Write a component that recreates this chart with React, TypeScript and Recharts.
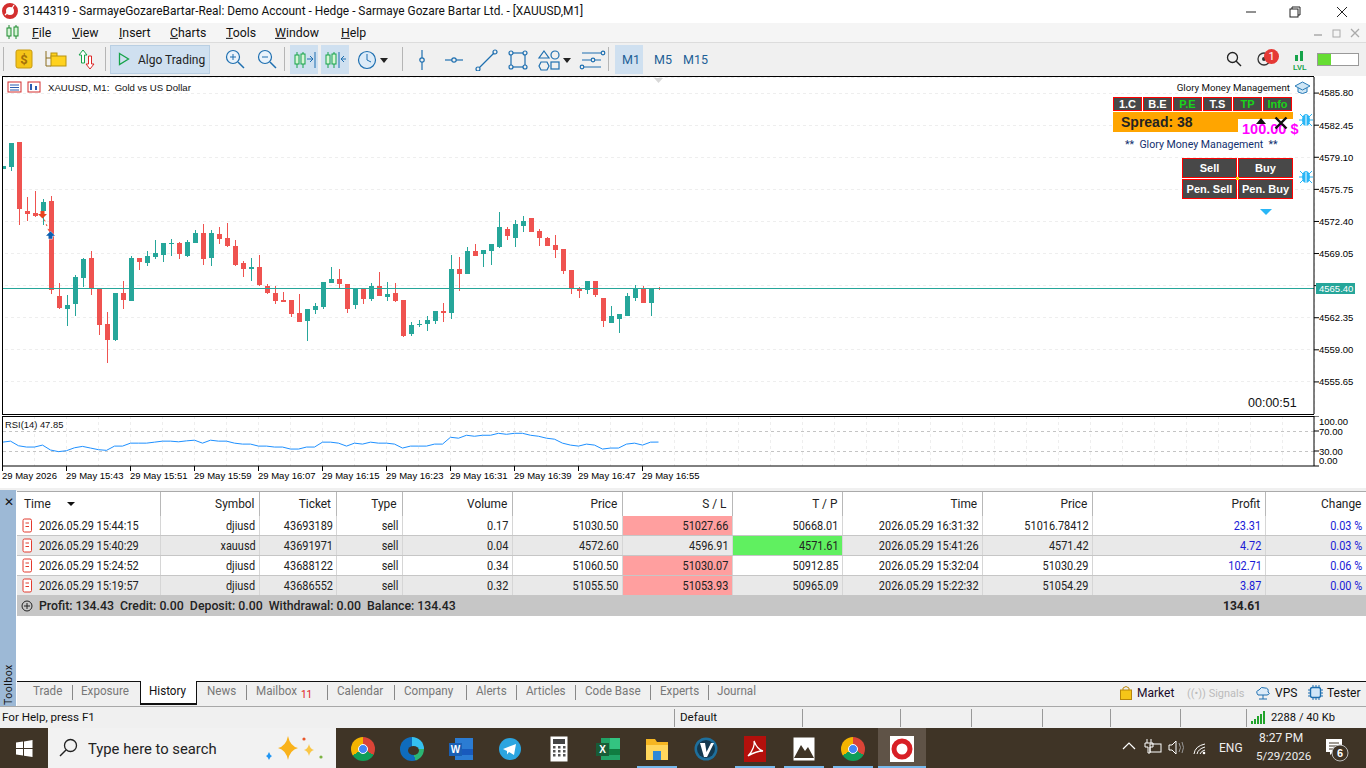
import React from "react";
import {
  Bar,
  CartesianGrid,
  ComposedChart,
  Line,
  ReferenceLine,
  XAxis,
  YAxis,
} from "recharts";

// candles, oldest first (one per minute from 15:35)
const opens = [
  4577.88, 4578.12, 4580.7, 4573.5, 4573.29, 4573.5, 4574.54, 4564.62, 4563.27, 4563.79, 4566.5, 4568.59,
  4565.46, 4561.7, 4560.03, 4564.94, 4564.1, 4568.59, 4568.07, 4568.69, 4568.9, 4570.05, 4570.15, 4568.8,
  4570.15, 4571.2, 4568.59, 4571.09, 4570.68, 4569.84, 4568.07, 4567.44, 4567.65, 4565.67, 4564.94, 4564.2,
  4564.2, 4562.85, 4562.01, 4563.16, 4563.47, 4565.98, 4566.4, 4565.87, 4563.68, 4565.38, 4564.31, 4565.66,
  4564.51, 4564.93, 4564.2, 4560.65, 4561.59, 4561.7, 4562.01, 4563.05, 4562.84, 4567.44, 4566.92, 4569.32,
  4569.0, 4569.32, 4569.73, 4571.61, 4570.67, 4571.93, 4572.76, 4571.4, 4570.67, 4569.94, 4569.52, 4567.33,
  4565.45, 4565.25, 4566.18, 4564.41, 4561.8, 4562.22, 4562.53, 4564.41, 4565.38, 4563.89, 4565.42,
];
const highs = [
  4578.19, 4580.59, 4580.7, 4574.96, 4575.58, 4574.75, 4575.06, 4565.98, 4564.73, 4566.81, 4568.59, 4569.32,
  4565.46, 4562.95, 4564.94, 4566.19, 4568.8, 4568.59, 4569.32, 4570.47, 4570.15, 4570.57, 4570.26, 4570.47,
  4571.51, 4572.14, 4571.51, 4571.82, 4572.24, 4570.47, 4568.28, 4568.59, 4568.9, 4565.87, 4565.67, 4565.04,
  4564.2, 4564.83, 4563.27, 4563.89, 4566.08, 4567.65, 4567.44, 4565.87, 4565.38, 4565.38, 4565.98, 4567.12,
  4566.08, 4565.98, 4564.2, 4561.91, 4562.11, 4562.53, 4563.05, 4563.89, 4568.9, 4568.69, 4569.73, 4570.05,
  4569.42, 4570.05, 4573.39, 4571.82, 4572.55, 4572.97, 4572.76, 4571.61, 4570.78, 4570.99, 4569.52, 4567.33,
  4565.56, 4566.18, 4566.18, 4564.41, 4563.57, 4562.74, 4564.93, 4565.77, 4565.66, 4565.38, 4565.56,
];
const lows = [
  4577.88, 4577.7, 4572.03, 4572.45, 4572.87, 4572.03, 4564.83, 4563.27, 4561.49, 4562.53, 4565.56, 4564.73,
  4560.55, 4557.63, 4559.92, 4563.27, 4564.1, 4567.34, 4567.75, 4568.48, 4568.17, 4568.8, 4568.48, 4568.69,
  4570.15, 4567.86, 4567.75, 4570.05, 4569.74, 4567.75, 4566.61, 4566.19, 4565.67, 4564.83, 4563.79, 4563.99,
  4562.43, 4561.91, 4559.92, 4562.74, 4563.27, 4565.98, 4565.35, 4562.84, 4563.26, 4563.78, 4564.1, 4564.62,
  4564.1, 4563.99, 4560.34, 4560.44, 4561.38, 4560.97, 4561.7, 4561.91, 4562.22, 4565.14, 4566.92, 4568.8,
  4567.65, 4567.86, 4569.63, 4570.46, 4569.73, 4571.3, 4571.3, 4569.84, 4569.84, 4568.59, 4566.92, 4564.83,
  4564.41, 4564.83, 4564.51, 4561.38, 4561.8, 4560.76, 4562.53, 4564.1, 4563.89, 4562.53, 4565.25,
];
const closes = [
  4578.19, 4580.59, 4573.7, 4573.18, 4572.97, 4574.43, 4565.25, 4563.37, 4563.68, 4566.61, 4568.48, 4565.46,
  4561.59, 4560.03, 4564.94, 4564.2, 4568.59, 4568.17, 4568.8, 4569.11, 4570.15, 4570.15, 4569.01, 4570.26,
  4571.2, 4568.48, 4571.2, 4570.57, 4569.84, 4567.86, 4567.44, 4567.65, 4565.77, 4564.94, 4564.1, 4563.99,
  4562.74, 4561.91, 4563.27, 4563.58, 4566.08, 4566.4, 4565.87, 4563.26, 4565.38, 4564.31, 4565.66, 4564.62,
  4564.83, 4564.1, 4560.44, 4561.59, 4561.7, 4562.11, 4563.05, 4562.84, 4567.44, 4566.92, 4569.32, 4568.8,
  4569.42, 4570.05, 4571.82, 4570.88, 4572.13, 4572.45, 4571.3, 4570.67, 4569.84, 4569.42, 4567.23, 4565.35,
  4565.14, 4566.18, 4564.72, 4562.01, 4562.53, 4562.74, 4564.62, 4565.38, 4563.89, 4565.38, 4565.35,
];
const rsiValues = [
  47.7, 49.7, 40.5, 37.9, 37.9, 41.8, 32, 28.7, 30.6, 36.5, 39.2, 35.9, 32.6, 31.3, 39.8, 39.8, 45.7, 45.7, 45.7,
  47.7, 49.7, 49.7, 48.4, 50.3, 51.6, 45.7, 51.6, 49.7, 49.7, 45.7, 43.8, 43.8, 39.8, 39.8, 37.9, 37.9, 33.9, 33.9,
  37.9, 37.9, 47.7, 47.7, 45.7, 39.8, 45.7, 43.8, 47.7, 45.7, 45.7, 43.8, 35.9, 39.8, 39.8, 39.8, 43.8, 43.8, 57.5,
  55.6, 61.5, 59.5, 61.5, 61.5, 65.4, 63.4, 65.4, 65.4, 61.5, 59.5, 55.6, 53.6, 45.7, 41.8, 39.8, 43.8, 41.8, 33.9,
  35.9, 35.9, 43.8, 45.7, 41.8, 47.7, 47.85,
];
const priceTicks = [4585.8, 4582.45, 4579.1, 4575.75, 4572.4, 4569.05, 4565.7, 4562.35, 4559.0, 4555.65];
const rsiTicks = [0, 30, 70, 100];
const timeLabels = [
  "29 May 2026", "29 May 15:43", "29 May 15:51", "29 May 15:59", "29 May 16:07", "29 May 16:15",
  "29 May 16:23", "29 May 16:31", "29 May 16:39", "29 May 16:47", "29 May 16:55",
];
const lastPrice = 4565.4;
// the one trade on the chart: candle index and price of entry and exit
const tradeSlots = [5, 6];
const tradePrices = [4573.08, 4571.0];

const tableHeaders = ["Time", "Symbol", "Ticket", "Type", "Volume", "Price", "S / L", "T / P", "Time", "Price", "Profit", "Change"];
const openTimes = ["2026.05.29 15:44:15", "2026.05.29 15:40:29", "2026.05.29 15:24:52", "2026.05.29 15:19:57"];
const symbols = ["djiusd", "xauusd", "djiusd", "djiusd"];
const tickets = ["43693189", "43691971", "43688122", "43686552"];
const volumes = ["0.17", "0.04", "0.34", "0.32"];
const openPrices = ["51030.50", "4572.60", "51060.50", "51055.50"];
const stopLosses = ["51027.66", "4596.91", "51030.07", "51053.93"];
const takeProfits = ["50668.01", "4571.61", "50912.85", "50965.09"];
const closeTimes = ["2026.05.29 16:31:32", "2026.05.29 15:41:26", "2026.05.29 15:32:04", "2026.05.29 15:22:32"];
const closePrices = ["51016.78412", "4571.42", "51030.29", "51054.29"];
const profits = ["23.31", "4.72", "102.71", "3.87"];
const changes = ["0.03 %", "0.03 %", "0.06 %", "0.00 %"];
const columnEdges = [17, 160, 259, 336, 402, 512, 622, 732, 842, 982, 1092, 1265, 1366];

const menuItems: [string, number][] = [["File", 32], ["View", 72], ["Insert", 119], ["Charts", 170], ["Tools", 226], ["Window", 275], ["Help", 341]];
const tabItems: [string, number][] = [["Trade", 33], ["Exposure", 81], ["History", 149], ["News", 207], ["Mailbox", 256], ["Calendar", 337], ["Company", 404], ["Alerts", 476], ["Articles", 526], ["Code Base", 585], ["Experts", 660], ["Journal", 717]];
const tabSeparators = [72, 246, 327, 394, 466, 516, 575, 650, 708];
const statusSeparators = [674, 802, 900, 971, 1042, 1110, 1180, 1246];

const UP = "#26a69a";
const DOWN = "#ef5350";
const FONT = "Roboto, 'Liberation Sans', sans-serif";
const AXIS_FONT = "'Liberation Sans', sans-serif";

const slots = Array.from({ length: 164 }, (_, i) => i);
const priceRows = slots.map((slot) => {
  const t = tradeSlots.indexOf(slot);
  return {
    slot,
    open: opens[slot],
    high: highs[slot],
    low: lows[slot],
    close: closes[slot],
    range: slot < opens.length ? [lows[slot], highs[slot]] : null,
    trade: t >= 0 ? tradePrices[t] : null,
  };
});
const rsiRows = slots.map((slot) => ({ slot, rsi: slot < rsiValues.length ? rsiValues[slot] : null }));

function CandleShape(props: any) {
  const { x, y, width, height, payload } = props;
  if (!payload || payload.open == null) return null;
  const { open, high, low, close } = payload;
  const unit = height / (high - low);
  const bodyTop = y + (high - Math.max(open, close)) * unit;
  const bodyHeight = Math.max(1, Math.abs(open - close) * unit);
  const color = close >= open ? UP : DOWN;
  return (
    <g shapeRendering="crispEdges" fill={color}>
      <rect x={x + width / 2 - 0.5} y={y} width={1} height={height} />
      <rect x={x} y={bodyTop} width={width} height={bodyHeight} />
    </g>
  );
}

function TradeDot(props: any) {
  const { cx, cy, payload } = props;
  if (cy == null || payload.trade == null) return <g key={payload.slot} />;
  const isEntry = payload.slot === tradeSlots[0];
  const d = isEntry
    ? `M${cx - 2},${cy - 4}h4v3h2.5l-4.5,4.5l-4.5,-4.5h2.5z`
    : `M${cx - 2},${cy + 4}h4v-3h2.5l-4.5,-4.5l-4.5,4.5h2.5z`;
  return <path key={payload.slot} d={d} fill={isEntry ? "#e8431f" : "#0c5fb0"} stroke={isEntry ? "none" : "#fff"} strokeWidth={1} paintOrder="stroke" />;
}

function RsiTick(props: any) {
  const { x, y, payload } = props;
  const shift = payload.value === 100 ? 5 : payload.value === 0 ? -6 : 0;
  return (
    <text x={x} y={y + shift + 3.5} fill="#000" fontSize={9.5} fontFamily={AXIS_FONT}>
      {payload.value.toFixed(2)}
    </text>
  );
}

function TimeTick(props: any) {
  const { x, y, payload } = props;
  const label = timeLabels[payload.value / 8];
  if (payload.value % 8 !== 0 || !label) return <g />;
  return (
    <g>
      <rect x={x - 0.5} y={y - 6} width={1} height={5} fill="#000" shapeRendering="crispEdges" />
      <text x={x - 0.5} y={y + 7} fill="#000" fontSize={9.5} fontFamily={AXIS_FONT}>
        {label}
      </text>
    </g>
  );
}

function T({ x, y, s = 12, c = "#1a1a1a", w = 400, right, children, f, sx = 1 }: any) {
  const pos: React.CSSProperties = right ? { right: 1366 - x } : { left: x };
  return (
    <span style={{ position: "absolute", top: y, transform: `translateY(-50%) scaleX(${sx})`, transformOrigin: right ? "right center" : "left center", fontSize: s, color: c, fontWeight: w, whiteSpace: "nowrap", fontFamily: f || FONT, lineHeight: 1, ...pos }}>
      {children}
    </span>
  );
}

function Box({ x, y, w, h, bg, style }: any) {
  return <div style={{ position: "absolute", left: x, top: y, width: w, height: h, background: bg, ...style }} />;
}

function Svg({ x, y, w, h, children }: any) {
  return (
    <svg style={{ position: "absolute", left: x, top: y }} width={w} height={h} viewBox={`0 0 ${w} ${h}`}>
      {children}
    </svg>
  );
}

function WidgetButton({ x, y, w, h, label, color = "#fff", s = 11 }: any) {
  return (
    <div style={{ position: "absolute", left: x, top: y, width: w, height: h, boxSizing: "border-box", background: "#484848", border: "1px solid #f00", color, fontSize: s, fontWeight: 700, textAlign: "center", lineHeight: `${h - 2}px`, fontFamily: "'Liberation Sans', sans-serif", whiteSpace: "nowrap" }}>
      {label}
    </div>
  );
}

function Spider({ x, y }: any) {
  return (
    <Svg x={x} y={y} w={14} h={16}>
      <g stroke="#29b6f6" strokeWidth={1} fill="none">
        <path d="M4,5L1,2M10,5L13,2M3,8H0M11,8H14M4,11L1,14M10,11L13,14" />
      </g>
      <ellipse cx={7} cy={8} rx={4} ry={6} fill="#29b6f6" />
      <path d="M7,3V14" stroke="#fff" />
    </Svg>
  );
}

function ChromeIcon({ x, y, size = 22 }: any) {
  return (
    <div style={{ position: "absolute", left: x, top: y, width: size, height: size, borderRadius: "50%", background: "conic-gradient(#db4437 0 33%, #0f9d58 33% 66%, #f4b400 66% 100%)" }}>
      <div style={{ position: "absolute", left: size * 0.28, top: size * 0.28, width: size * 0.44, height: size * 0.44, borderRadius: "50%", background: "#4285f4", border: "1px solid #fff", boxSizing: "border-box" }} />
    </div>
  );
}

function Toolbar() {
  const blue = "#1e6fb0";
  return (
    <>
      <Box x={0} y={43} w={1366} h={33} bg="#f0f0f0" />
      <Box x={0} y={42} w={1366} h={1} bg="#dcdcdc" />
      {[3, 105, 284, 402, 608].map((x) => (
        <Box key={x} x={x} y={47} w={1} h={24} bg="#b5b5b5" />
      ))}
      <Svg x={15} y={49} w={18} h={20}>
        <rect x={1} y={1} width={16} height={18} rx={2} fill="#f5c518" stroke="#c79a10" />
        <text x={9} y={15} fontSize={13} textAnchor="middle" fill="#a4700a" fontFamily={FONT} fontWeight={700}>$</text>
      </Svg>
      <Svg x={45} y={50} w={22} h={18}>
        <path d="M1,1V16H6M1,8H6" stroke="#8a6d1c" fill="none" />
        <rect x={6} y={3} width={6} height={4} fill="#ffd21f" stroke="#b8920f" />
        <rect x={6} y={6} width={15} height={10} fill="#ffd21f" stroke="#b8920f" />
      </Svg>
      <Svg x={78} y={49} w={18} h={22}>
        <path d="M5,1L9,6H6.5V14H3.5V6H1Z" fill="#fff" stroke="#16a34a" />
        <path d="M12,20L16,15H13.5V7H10.5V15H8Z" fill="#fff" stroke="#dc2626" />
      </Svg>
      <Box x={110} y={45} w={100} h={29} bg="#cfe0f0" style={{ boxSizing: "border-box", border: "1px solid #b9cfe3" }} />
      <Svg x={118} y={52} w={12} h={14}>
        <path d="M1.5,1.5L10.5,7L1.5,12.5Z" fill="none" stroke="#16a34a" strokeWidth={1.3} />
      </Svg>
      <T x={138} y={60} s={12} c="#222">Algo Trading</T>
      {[225, 257].map((x, i) => (
        <Svg key={x} x={x} y={49} w={20} h={21}>
          <circle cx={8} cy={8} r={6.5} fill="#eaf3fb" stroke={blue} strokeWidth={1.2} />
          <path d={i === 0 ? "M5,8H11M8,5V11" : "M5,8H11"} stroke={blue} />
          <path d="M13,13L19,19" stroke={blue} strokeWidth={1.5} />
        </Svg>
      ))}
      <Box x={290} y={45} w={28} h={29} bg="#cfe0f0" />
      <Box x={321} y={45} w={28} h={29} bg="#cfe0f0" />
      {[294, 325].map((x, i) => (
        <Svg key={x} x={x} y={50} w={22} h={20}>
          <path d="M3,2V18M9,2V18" stroke="#16a34a" />
          <rect x={1} y={5} width={4} height={9} fill="#d6f5d6" stroke="#16a34a" />
          <rect x={7} y={4} width={4} height={10} fill="#d6f5d6" stroke="#16a34a" />
          {i === 0 ? <path d="M13,9H19M16,6L19,9L16,12M21,2V18" stroke={blue} fill="none" /> : <path d="M14,2V18M21,9H16M19,6L16,9L19,12" stroke={blue} fill="none" />}
        </Svg>
      ))}
      <Svg x={357} y={49} w={34} h={22}>
        <circle cx={10} cy={11} r={8.5} fill="#dcebf8" stroke={blue} strokeWidth={1.2} />
        <path d="M10,5V11L14,13" stroke={blue} fill="none" />
        <path d="M23,9H31L27,14Z" fill="#222" />
      </Svg>
      <Svg x={414} y={49} w={196} h={22}>
        <g stroke={blue} fill="none" strokeWidth={1.2}>
          <path d="M8,1V21" />
          <circle cx={8} cy={11} r={2.2} fill="#f0f0f0" />
          <path d="M31,11H49" />
          <circle cx={40} cy={11} r={2.2} fill="#f0f0f0" />
          <path d="M65,19L80,4" />
          <circle cx={64} cy={20} r={2} fill="#f0f0f0" />
          <circle cx={81} cy={3} r={2} fill="#f0f0f0" />
          <rect x={97} y={4} width={14} height={14} />
          <circle cx={97} cy={4} r={2} fill="#f0f0f0" />
          <circle cx={111} cy={4} r={2} fill="#f0f0f0" />
          <circle cx={97} cy={18} r={2} fill="#f0f0f0" />
          <circle cx={111} cy={18} r={2} fill="#f0f0f0" />
          <path d="M130,2L135,9H125Z" />
          <circle cx={141} cy={6} r={4} />
          <path d="M127,13H133L135,17L133,21H127L125,17Z" />
          <rect x={137} y={13} width={8} height={7} />
          <path d="M168,4H187M168,11H177M168,18H187M181,11H187" />
          <circle cx={189} cy={4} r={1.8} fill="#f0f0f0" />
          <circle cx={179} cy={11} r={1.8} fill="#f0f0f0" />
          <circle cx={168} cy={18} r={1.8} fill="#f0f0f0" />
        </g>
        <path d="M149,9H157L153,14Z" fill="#222" />
      </Svg>
      <Box x={615} y={45} w={28} h={29} bg="#cfe0f0" />
      <T x={622} y={60} s={12.5} c="#1e5f96">M1</T>
      <T x={654} y={60} s={12.5} c="#1e5f96">M5</T>
      <T x={683} y={60} s={12.5} c="#1e5f96">M15</T>
      <Svg x={1226} y={51} w={16} h={17}>
        <circle cx={6.5} cy={6.5} r={5} fill="none" stroke="#222" strokeWidth={1.3} />
        <path d="M10,10L15,15" stroke="#222" strokeWidth={1.4} />
      </Svg>
      <Svg x={1256} y={50} w={16} h={18}>
        <circle cx={8} cy={9} r={6} fill="none" stroke="#333" strokeWidth={1.3} />
        <circle cx={8} cy={9} r={2} fill="#333" />
      </Svg>
      <div style={{ position: "absolute", left: 1264, top: 49, width: 15, height: 15, borderRadius: "50%", background: "#e53935", color: "#fff", fontSize: 11, textAlign: "center", lineHeight: "15px", fontFamily: FONT }}>1</div>
      <Svg x={1293} y={49} w={16} h={22}>
        <rect x={2} y={6} width={3} height={6} fill="#16a34a" />
        <rect x={7} y={2} width={3} height={10} fill="#16a34a" />
        <text x={0} y={21} fontSize={7.5} fill="#16a34a" fontFamily={AXIS_FONT} fontWeight={700}>LVL</text>
      </Svg>
      <Box x={1317} y={53} w={42} h={13} bg="#fff" style={{ boxSizing: "border-box", border: "1px solid #999" }} />
      <Box x={1318} y={54} w={13} h={11} bg="#66dd33" />
    </>
  );
}

function TitleAndMenu() {
  return (
    <>
      <Box x={0} y={0} w={1366} h={23} bg="#fff" />
      <Svg x={2} y={3} w={16} h={16}>
        <circle cx={8} cy={8} r={6} fill="none" stroke="#d32f2f" strokeWidth={4} />
        <path d="M3,12L7,8M12,2L9,7" stroke="#fff" strokeWidth={1.2} />
      </Svg>
      <T x={23} y={12} s={11.9} c="#111">3144319 - SarmayeGozareBartar-Real: Demo Account - Hedge - Sarmaye Gozare Bartar Ltd. - [XAUUSD,M1]</T>
      <Svg x={1240} y={2} w={120} h={20}>
        <path d="M6,10H16" stroke="#222" />
        <rect x={50} y={7} width={8} height={8} fill="none" stroke="#222" />
        <path d="M52,7V5H60V13H58" fill="none" stroke="#222" />
        <path d="M97,5L107,15M107,5L97,15" stroke="#222" />
      </Svg>
      <Box x={0} y={23} w={1366} h={19} bg="#f5f5f5" />
      <Svg x={6} y={25} w={14} h={15}>
        <path d="M3,0V14M10,0V14" stroke="#1c8a2e" />
        <rect x={1} y={3} width={4} height={8} fill="#d6f5d6" stroke="#1c8a2e" />
        <rect x={8} y={2} width={4} height={9} fill="#d6f5d6" stroke="#1c8a2e" />
      </Svg>
      {menuItems.map(([name, x]) => (
        <T key={name} x={x} y={33} s={12.3} c="#111">
          <span style={{ textDecoration: "underline" }}>{name[0]}</span>
          {name.slice(1)}
        </T>
      ))}
      <Svg x={1310} y={26} w={54} h={14}>
        <path d="M4,9H12" stroke="#aaa" strokeWidth={1.5} />
        <rect x={23} y={4} width={7} height={7} fill="none" stroke="#aaa" />
        <path d="M41,3L49,11M49,3L41,11" stroke="#aaa" strokeWidth={1.3} />
      </Svg>
    </>
  );
}

function ChartWidgets() {
  const topRow: [string, number, string][] = [["1.C", 1113, "#fff"], ["B.E", 1143, "#fff"], ["P.E", 1173, "#19d419"], ["T.S", 1203, "#fff"], ["TP", 1233, "#19d419"], ["Info", 1263, "#19d419"]];
  return (
    <>
      <T x={1290} y={88} s={9.7} right c="#111">Glory Money Management</T>
      <Svg x={1294} y={81} w={18} h={14}>
        <path d="M4,7V11Q8.5,14 13,11V7" fill="#cfe6f5" stroke="#2a7cb8" />
        <path d="M1,5L8.5,1L16,5L8.5,9Z" fill="#cfe6f5" stroke="#2a7cb8" />
      </Svg>
      {topRow.map(([label, x, color]) => (
        <WidgetButton key={label} x={x} y={97} w={29} h={14} label={label} color={color} />
      ))}
      <Box x={1113} y={112} w={180} h={20} bg="#ffa500" />
      <T x={1121} y={122} s={14} w={700} c="#222" f={AXIS_FONT}>Spread: 38</T>
      <Box x={1238} y={119} w={55} h={13} bg="#fff" />
      <T x={1242} y={128.5} s={14.5} w={700} c="#ff00ff" f={AXIS_FONT}>100.00 $</T>
      <Svg x={1255} y={117} w={12} h={8}>
        <path d="M1,7L6,1L11,7Z" fill="#111" />
      </Svg>
      <Svg x={1274} y={116} w={14} h={14}>
        <path d="M1.5,1.5L12.5,12.5M12.5,1.5L1.5,12.5" stroke="#111" strokeWidth={2.4} />
      </Svg>
      <T x={1125} y={145} s={10.6} c="#12306e">**&nbsp; Glory Money Management &nbsp;**</T>
      <WidgetButton x={1182} y={158} w={55} h={20} label="Sell" />
      <WidgetButton x={1238} y={158} w={55} h={20} label="Buy" />
      <WidgetButton x={1182} y={179} w={55} h={20} label="Pen. Sell" />
      <WidgetButton x={1238} y={179} w={55} h={20} label="Pen. Buy" />
      <Box x={1236} y={177} w={3} h={3} bg="#ffd400" />
      <Svg x={1259} y={208} w={14} h={8}>
        <path d="M1,1H13L7,7Z" fill="#29b6f6" />
      </Svg>
      <Spider x={1299} y={112} />
      <Spider x={1299} y={169} />
      <T x={1248} y={403} s={12.5} c="#111" f={AXIS_FONT}>00:00:51</T>
      <Svg x={7} y={81} w={36} h={13}>
        <rect x={1} y={1} width={13} height={10} fill="#fff" stroke="#d32f2f" />
        <path d="M3,4H12M3,6.5H12M3,9H12" stroke="#2a5db0" />
        <rect x={21} y={1} width={12} height={10} fill="#fff" stroke="#d32f2f" />
        <path d="M24,3V9M29,5V9" stroke="#2a5db0" strokeWidth={2} />
      </Svg>
      <T x={48} y={87.5} s={9.6} c="#111" f={AXIS_FONT}>XAUUSD, M1:&nbsp; Gold vs US Dollar</T>
      <Svg x={654} y={78} w={9} h={5}>
        <path d="M0,0H9L4.5,5Z" fill="#d8d8d8" />
      </Svg>
      {/* last price tag sits over the 4565.70 axis label, as in the terminal */}
      <Box x={1316} y={283} w={39} h={11} bg={UP} />
      <T x={1319} y={288.5} s={9.5} c="#fff" f={AXIS_FONT}>4565.40</T>
    </>
  );
}

function HistoryTable() {
  const rowTops = [516, 536, 556, 576];
  const rows = openTimes.map((time, i) => [time, symbols[i], tickets[i], "sell", volumes[i], openPrices[i], stopLosses[i], takeProfits[i], closeTimes[i], closePrices[i], profits[i], changes[i]]);
  return (
    <>
      <Box x={0} y={488} w={1366} h={3} bg="#f0f0f0" />
      <Box x={0} y={490} w={16} h={216} bg="#9db9d6" />
      <T x={4} y={502} s={12} c="#111" w={500}>✕</T>
      <div style={{ position: "absolute", left: 2, top: 661, height: 44, width: 14, writingMode: "vertical-rl", transform: "rotate(180deg)", fontSize: 10.5, letterSpacing: 0.5, color: "#111", textAlign: "left", fontFamily: FONT }}>Toolbox</div>
      <Box x={17} y={491} w={1349} h={1} bg="#aaa" />
      {tableHeaders.map((head, c) =>
        c === 0 ? (
          <T key={c} x={24} y={504} s={12.5} c="#222" sx={0.95}>{head}</T>
        ) : (
          <T key={c} x={columnEdges[c + 1] - 5} y={504} s={12.5} c="#222" right sx={0.95}>{head}</T>
        ),
      )}
      <Svg x={67} y={502} w={8} h={5}>
        <path d="M0,0H8L4,4Z" fill="#111" />
      </Svg>
      {columnEdges.slice(1, -1).map((x) => (
        <Box key={x} x={x} y={492} w={1} h={24} bg="#b8b8b8" />
      ))}
      {rows.map((row, r) => (
        <React.Fragment key={r}>
          <Box x={17} y={rowTops[r]} w={1349} h={19} bg={r % 2 ? "#e9e9e9" : "#fff"} />
          {r !== 1 && <Box x={623} y={rowTops[r]} w={109} h={19} bg="#ff9f9f" />}
          {r === 1 && <Box x={733} y={rowTops[r]} w={109} h={19} bg="#60f060" />}
          <Box x={17} y={rowTops[r] + 19} w={1349} h={1} bg="#c6c6c6" />
          {columnEdges.slice(1, -1).map((x) => (
            <Box key={x} x={x} y={rowTops[r]} w={1} h={19} bg="#d6d6d6" />
          ))}
          <Svg x={22} y={rowTops[r] + 2} w={11} h={15}>
            <rect x={1} y={1} width={8.5} height={13} rx={1.5} fill="#fff" stroke="#e23a2e" />
            <path d="M3.5,5H7M3.5,8.5H7" stroke="#e23a2e" />
          </Svg>
          <T x={39} y={rowTops[r] + 10} c="#222" sx={0.91}>{row[0]}</T>
          {row.slice(1).map((cell, c) => (
            <T key={c} x={columnEdges[c + 2] - 3.5} y={rowTops[r] + 10} c={c >= 9 ? "#1a1ad6" : "#222"} right sx={0.91}>
              {cell}
            </T>
          ))}
        </React.Fragment>
      ))}
      <Box x={17} y={596} w={1349} h={20} bg="#c6c6c6" />
      <Svg x={21} y={600} w={12} h={12}>
        <circle cx={6} cy={6} r={5} fill="none" stroke="#222" />
        <path d="M3,6H9M6,3V9" stroke="#222" />
      </Svg>
      <T x={39} y={606} s={12.3} w={500} c="#222">Profit: 134.43&nbsp; Credit: 0.00&nbsp; Deposit: 0.00&nbsp; Withdrawal: 0.00&nbsp; Balance: 134.43</T>
      <T x={1261} y={606} w={700} c="#222" right>134.61</T>
    </>
  );
}

function BottomBars() {
  return (
    <>
      <Box x={17} y={681} w={1349} h={1} bg="#111" />
      <Box x={17} y={682} w={1349} h={24} bg="#f0f0f0" />
      <Box x={140} y={681} w={57} h={24} bg="#fff" style={{ boxSizing: "border-box", borderLeft: "1px solid #111", borderRight: "1px solid #111", borderBottom: "2px solid #111" }} />
      {tabItems.map(([name, x]) => (
        <T key={name} x={x} y={691} s={12} c={name === "History" ? "#111" : "#777"} sx={0.97}>{name}</T>
      ))}
      <T x={301} y={695} s={10} c="#e02020">11</T>
      {tabSeparators.map((x) => (
        <Box key={x} x={x} y={685} w={1} h={15} bg="#888" />
      ))}
      <Svg x={1119} y={685} w={14} h={15}>
        <path d="M4,5V3Q7,0 10,3V5" fill="none" stroke="#b8860b" />
        <rect x={1.5} y={5} width={11} height={9.5} fill="#f5c518" stroke="#b8860b" />
      </Svg>
      <T x={1137} y={693} s={12} c="#1a0a2a">Market</T>
      <T x={1187} y={693} s={11} c="#bbb">((•)) Signals</T>
      <Svg x={1255} y={686} w={16} h={14}>
        <path d="M3,9Q0,5 4,4Q6,0 10,2Q14,2 13,6Q16,8 12,9Z" fill="#dcebf8" stroke="#1e6fb0" />
        <path d="M8,9V13M4,13H12" stroke="#1e6fb0" />
      </Svg>
      <T x={1275} y={693} s={12} c="#111">VPS</T>
      <Svg x={1308} y={685} w={15} h={15}>
        <rect x={2.5} y={2.5} width={10} height={10} rx={2} fill="#cfe6f8" stroke="#1e6fb0" strokeWidth={1.4} />
        <path d="M5,0V2M8,0V2M11,0V2M5,13V15M8,13V15M11,13V15M0,5H2M0,8H2M0,11H2M13,5H15M13,8H15M13,11H15" stroke="#1e6fb0" />
      </Svg>
      <T x={1327} y={693} s={12} c="#111">Tester</T>
      <Box x={0} y={706} w={1366} h={1} bg="#a8a8a8" />
      <Box x={0} y={707} w={1366} h={21} bg="#f0f0f0" />
      <T x={2} y={718} s={11.6} c="#111">For Help, press F1</T>
      <T x={680} y={718} s={11.6} c="#111">Default</T>
      {statusSeparators.map((x) => (
        <Box key={x} x={x} y={709} w={1} h={18} bg="#999" />
      ))}
      {[0, 1, 2, 3, 4].map((i) => (
        <Box key={i} x={1251 + i * 3} y={722 - i * 2.5 - 1} w={2} h={3 + i * 2.5} bg="#21a32a" />
      ))}
      <T x={1271} y={718} s={11.2} c="#111">2288 / 40 Kb</T>
    </>
  );
}

function Taskbar() {
  const bar = "#3f3426";
  const marks: [number, number][] = [[637, 40], [735, 40], [784, 40], [833, 40], [878, 48]];
  return (
    <>
      <Box x={0} y={728} w={1366} h={40} bg={bar} />
      <Svg x={16} y={740} w={17} h={17}>
        <path d="M0,2.5L7,1.5V8H0ZM8,1.4L16.5,0V8H8ZM0,9H7V15.5L0,14.5ZM8,9H16.5V17L8,15.7Z" fill="#fff" />
      </Svg>
      <Box x={48} y={728} w={288} h={40} bg="#f2f2f2" />
      <Svg x={59} y={738} w={20} h={20}>
        <circle cx={11.5} cy={7.5} r={6} fill="none" stroke="#222" strokeWidth={1.3} />
        <path d="M7,12L1,18" stroke="#222" strokeWidth={1.4} />
      </Svg>
      <T x={88} y={749} s={14.8} c="#222">Type here to search</T>
      <Svg x={264} y={735} w={62} h={28}>
        <path d="M24,1Q26,11 34,13Q26,15 24,25Q22,15 14,13Q22,11 24,1Z" fill="#f9b21b" />
        <path d="M45,9Q46,14 50,15Q46,16 45,21Q44,16 40,15Q44,14 45,9Z" fill="#f9c646" />
        <path d="M5,17Q6,20 8,21Q6,22 5,25Q4,22 2,21Q4,20 5,17Z" fill="#2196f3" />
        <circle cx={40} cy={4} r={1.6} fill="#e8562a" />
        <circle cx={57} cy={22} r={1.6} fill="#7cb342" />
      </Svg>
      <ChromeIcon x={351} y={737} size={24} />
      <div style={{ position: "absolute", left: 400, top: 737, width: 24, height: 24, borderRadius: "50%", background: "conic-gradient(#35c1f1 0 25%, #2bb673 25% 45%, #0f6cbd 45% 100%)" }}>
        <div style={{ position: "absolute", left: 8, top: 9, width: 11, height: 9, borderRadius: "50%", background: bar }} />
      </div>
      <Svg x={449} y={737} w={24} h={24}>
        <rect x={6} y={1} width={18} height={22} fill="#2b7cd3" />
        <rect x={6} y={12} width={18} height={6} fill="#185abd" />
        <rect x={0} y={6} width={13} height={13} fill="#1a5fb4" />
        <text x={6.5} y={16} fontSize={10} fontWeight={700} fill="#fff" textAnchor="middle" fontFamily={AXIS_FONT}>W</text>
      </Svg>
      <Svg x={498} y={737} w={24} h={24}>
        <circle cx={12} cy={12} r={11} fill="#2ca5e0" />
        <path d="M5,12L18,7L16,18L11,15L9,17.5V14Z" fill="#fff" />
      </Svg>
      <Svg x={550} y={736} w={18} h={26}>
        <rect x={0.5} y={0.5} width={17} height={25} fill="#fff" />
        <rect x={3} y={3} width={12} height={5} fill="#444" />
        {[10, 14, 18].map((yy) => [3, 8, 13].map((xx) => <rect key={`${xx}-${yy}`} x={xx} y={yy} width={2.5} height={2.5} fill="#555" />))}
      </Svg>
      <Svg x={596} y={737} w={24} h={24}>
        <rect x={5} y={1} width={19} height={22} fill="#21a366" />
        <rect x={14} y={1} width={10} height={11} fill="#33c481" />
        <rect x={5} y={12} width={19} height={6} fill="#107c41" />
        <rect x={0} y={6} width={13} height={13} fill="#185c37" />
        <text x={6.5} y={16} fontSize={10} fontWeight={700} fill="#fff" textAnchor="middle" fontFamily={AXIS_FONT}>X</text>
      </Svg>
      <Svg x={645} y={737} w={24} h={24}>
        <path d="M1,2H10L12,5H23V9H1Z" fill="#f5b622" />
        <rect x={1} y={8} width={22} height={15} fill="#ffd65c" />
        <rect x={8} y={14} width={8} height={9} fill="#2f88d8" />
      </Svg>
      <Svg x={694} y={737} w={24} h={24}>
        <circle cx={12} cy={12} r={11.5} fill="#1e6f9c" />
        <circle cx={12} cy={12} r={9} fill="#14384e" />
        <path d="M6,6H11L12.5,15L17,6H20L13,20H10Z" fill="#fff" />
      </Svg>
      <Svg x={744} y={736} w={22} h={26}>
        <rect x={0} y={0} width={22} height={26} fill="#b3100c" />
        <path d="M4,20C9,15 11,8 10,5C12,10 14,14 19,15C14,15 9,17 4,20Z" fill="none" stroke="#fff" strokeWidth={1.3} />
      </Svg>
      <Svg x={793} y={737} w={22} h={24}>
        <rect x={0} y={0} width={22} height={24} fill="#fff" stroke={bar} />
        <path d="M1,21L8,8L12,14L15,10L21,21Z" fill={bar} />
      </Svg>
      <ChromeIcon x={841} y={737} size={24} />
      <Box x={878} y={728} w={48} h={40} bg="#5f5347" />
      <Svg x={890} y={736} w={24} h={26}>
        <rect x={0} y={0} width={24} height={26} fill="#fff" />
        <circle cx={12} cy={13} r={8} fill="none" stroke="#d81f26" strokeWidth={5} />
      </Svg>
      {marks.map(([x, w]) => (
        <Box key={x} x={x} y={766} w={w} h={2} bg="#76b9ed" />
      ))}
      <Svg x={1122} y={741} w={14} h={10}>
        <path d="M1,8L7,2L13,8" fill="none" stroke="#fff" strokeWidth={1.2} />
      </Svg>
      <Svg x={1143} y={738} w={72} h={20}>
        <g fill="none" stroke="#fff">
          <path d="M4,1V5M8,1V5M2,5H10V9H7V15H5V9H2Z" />
          <rect x={7} y={6} width={11} height={8} />
          <path d="M26,7H29L33,3V16L29,12H26Z" />
          <path d="M36,5Q39,9.5 36,14M39,4Q42,9.5 39,15" stroke="#999" />
          <path d="M51,16Q52,8 62,6M54,16Q55,11 62,9M57,16Q58,13 62,12" />
        </g>
        <circle cx={61} cy={15} r={1.3} fill="#fff" />
      </Svg>
      <T x={1219} y={748} s={12} c="#eee">ENG</T>
      <T x={1259} y={738} s={12} c="#eee">8:27 PM</T>
      <T x={1256} y={757} s={11.6} c="#eee">5/29/2026</T>
      <Svg x={1325} y={738} w={32} h={26}>
        <path d="M1,1H17V14H8L5,17V14H1Z" fill="#fff" />
        <path d="M4,5H14M4,8H14M4,11H14" stroke="#3f3426" />
        <circle cx={15} cy={15} r={8} fill="#3f3426" stroke="#bbb" />
        <text x={15} y={19} textAnchor="middle" fontSize={11} fontWeight={700} fill="#fff" fontFamily={AXIS_FONT}>6</text>
      </Svg>
    </>
  );
}

export default function App() {
  return (
    <div style={{ position: "absolute", left: 0, top: 0, width: 1366, height: 768, overflow: "hidden", background: "#fff", fontFamily: FONT }}>
      <TitleAndMenu />
      <Toolbar />

      <div style={{ position: "absolute", left: 0, top: 77 }}>
        <ComposedChart width={1366} height={337} data={priceRows} margin={{ top: 0, right: 0, bottom: 0, left: -1.5 }} barCategoryGap={0}>
          <CartesianGrid stroke="#eeeeee" strokeDasharray="3 3" shapeRendering="crispEdges" />
          <XAxis dataKey="slot" type="category" scale="band" interval={3} tick={false} tickLine={false} axisLine={false} height={0} padding={{ left: 0, right: 3.5 }} />
          <YAxis
            orientation="right"
            width={52}
            domain={[4552.3, 4587.48]}
            ticks={priceTicks}
            interval={0}
            allowDataOverflow
            tick={{ fontSize: 9.5, fill: "#000", fontFamily: AXIS_FONT, textAnchor: "start" }}
            tickFormatter={(value: number) => value.toFixed(2)}
            tickSize={5}
            tickMargin={0}
            tickLine={{ stroke: "#000" }}
            axisLine={{ stroke: "#000" }}
          />
          <Bar dataKey="range" barSize={5} shape={CandleShape} isAnimationActive={false} />
          <Line dataKey="trade" stroke="#e8431f" strokeWidth={1} strokeDasharray="2 3" dot={TradeDot} activeDot={false} connectNulls isAnimationActive={false} />
          <ReferenceLine y={lastPrice} stroke={UP} strokeWidth={1} shapeRendering="crispEdges" />
        </ComposedChart>
      </div>

      <div style={{ position: "absolute", left: 0, top: 416 }}>
        <ComposedChart width={1366} height={71} data={rsiRows} margin={{ top: 0, right: 0, bottom: 0, left: -1.5 }}>
          <CartesianGrid horizontal={false} stroke="#eeeeee" strokeDasharray="3 3" shapeRendering="crispEdges" />
          <XAxis
            dataKey="slot"
            type="category"
            scale="band"
            interval={3}
            height={21}
            padding={{ left: 0, right: 3.5 }}
            tick={TimeTick}
            tickLine={false}
            tickMargin={0}
            axisLine={{ stroke: "#000" }}
          />
          <YAxis
            orientation="right"
            width={52}
            domain={[0, 100]}
            ticks={rsiTicks}
            interval={0}
            tick={RsiTick}
            tickSize={5}
            tickMargin={0}
            tickLine={{ stroke: "#000" }}
            axisLine={{ stroke: "#000" }}
          />
          <ReferenceLine y={70} stroke="#c4c4c4" strokeDasharray="3 3" shapeRendering="crispEdges" />
          <ReferenceLine y={30} stroke="#c4c4c4" strokeDasharray="3 3" shapeRendering="crispEdges" />
          <Line dataKey="rsi" stroke="#1e90ff" strokeWidth={1} dot={false} activeDot={false} isAnimationActive={false} />
        </ComposedChart>
      </div>

      {/* pane frames */}
      <Box x={0} y={76} w={2} h={391} bg="#fff" />
      <Box x={2} y={76} w={1312} h={1} bg="#000" />
      <Box x={2} y={76} w={1} h={339} bg="#000" />
      <Box x={2} y={414} w={1312} h={1} bg="#000" />
      <Box x={2} y={416} w={1312} h={1} bg="#000" />
      <Box x={2} y={416} w={1} h={51} bg="#000" />
      <T x={5} y={425} s={9.4} c="#111" f={AXIS_FONT}>RSI(14) 47.85</T>

      <ChartWidgets />
      <HistoryTable />
      <BottomBars />
      <Taskbar />
    </div>
  );
}
